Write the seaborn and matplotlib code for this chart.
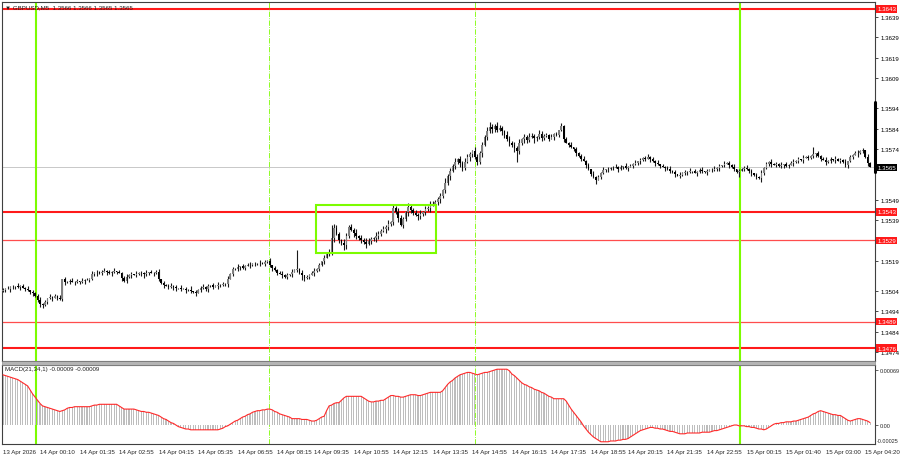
import numpy as np
import matplotlib
matplotlib.use("Agg")
import matplotlib.pyplot as plt
import matplotlib.transforms as mtransforms
from matplotlib.patches import Rectangle
import seaborn as sns

# GBPUSD M5 closes, in points above 1.35000 (1 point = 0.00001)
closes = [
    46, 52, 49, 58, 62, 66, 60, 63, 55, 50, 44, 38,
    30, 18, -5, -22, -28, -15, 5, 12, 8, 15, 6, 2,
    98, 86, 84, 88, 83, 87, 90, 86, 92, 95, 97, 100,
    125, 132, 136, 130, 134, 138, 135, 131, 136, 139, 134, 128,
    105, 88, 110, 120, 126, 118, 124, 130, 127, 122, 129, 133, 128, 131, 136,
    100, 78, 70, 66, 62, 64, 58, 55, 57, 50, 52, 46, 48, 40, 35, 30,
    45, 55, 60, 52, 64, 68, 62, 66, 72, 68, 74, 76,
    100, 125, 148, 150, 158, 162, 155, 166, 170, 168, 175,
    172, 178, 180, 176, 184, 190, 170, 155, 142, 130, 125, 118, 110,
    118, 126, 135, 145, 150, 130, 118, 105, 110, 118, 128, 140, 150,
    170, 190, 205, 225, 235, 300, 350, 320, 290, 275, 265, 310, 355,
    340, 325, 310, 300, 290, 280, 272,
    285, 295, 300, 312, 322, 335, 345, 358, 370, 380,
    450, 430, 400, 365, 395, 430, 455, 440, 425, 415, 410,
    420, 430, 445, 450, 462, 470, 480, 492,
    510, 540, 575, 605, 630, 655, 675, 690, 670, 645,
    675, 700, 715, 728, 700, 678, 720, 760, 800, 830, 850,
    840, 855, 835, 845, 830, 810, 790, 770, 760, 745, 730,
    770, 790, 800, 785, 798, 805, 792, 800, 812, 795, 803, 808, 790, 800, 815, 810,
    835, 852, 790, 770, 760, 750, 740, 720, 705, 690, 680,
    660, 640, 618, 600, 585, 600, 620, 635, 640, 642,
    648, 645, 652, 640, 650, 655, 645, 650, 658,
    665, 672, 680, 688, 695, 690, 702, 690, 680, 672, 665, 657,
    650, 645, 640, 632, 628, 615, 605, 610,
    620, 628, 625, 632, 630, 622, 628, 635, 630, 625, 632, 638, 635,
    640, 648, 655, 660, 668, 672, 660, 650, 640, 625, 632, 640, 645, 642,
    630, 620, 610, 600, 595, 620, 645, 665, 675,
    668, 660, 665, 658, 662, 668, 655, 662, 670, 675,
    680, 690, 688, 695, 700, 698, 706, 715,
    720, 705, 690, 685, 678, 682, 690, 685, 692, 680, 688, 675, 662,
    680, 700, 710, 722, 718, 730, 735, 700, 672, 650,
]
first_open = 40

# wick lengths, one digit per bar, in units of 5 points
wick_up = (
    "21312031213021231203121302123120312130212312"
    "13021231203121302123021231203121302123120213"
    "12131213021231203121302123120312130212312031"
    "32432143232413243214323241324321432324132432"
    "23142324132432143232413243214323241324321432"
    "21312031213021231203121302123120312130212312"
    "13021231203121302123021231203121302123120213"
    "12131213021231203121302123120312130212312031"
)
wick_dn = (
    "12031213021231203121302123120312130212312031"
    "31203121302123120312130212312031213021231203"
    "21230212312031213021231203121302123120312130"
    "23413243214323241324321432324132432143232413"
    "34232413243214323241324321432324132432143232"
    "12031213021231203121302123120312130212312031"
    "31203121302123120312130212312031213021231203"
    "21230212312031213021231203121302123120312130"
)
spike_high = {119: 245, 133: 365, 140: 365, 158: 470, 164: 470, 197: 875,
              200: 862, 226: 858, 328: 752, 348: 745, 107: 195}
spike_low = {15: -40, 17: -35, 121: 95, 147: 262, 208: 676, 240: 575,
             298: 600, 306: 590, 341: 655}

# MACD(21,34,1) main line, units of 0.00001
macd = [
    63, 62, 61, 60, 59, 58, 57, 55, 53, 51, 49, 44, 39,
    35, 31, 27, 24, 23, 22, 21, 20, 19, 18, 17,
    18, 19, 21, 22, 22, 23,
    23, 23, 23, 23, 23, 23, 24, 25, 25, 26,
    26, 26, 26, 26, 26, 26, 26, 24, 22, 20,
    20, 20, 20, 20, 19, 18, 17, 17, 16, 16,
    15, 14, 13, 12, 10, 8, 7, 5, 3, 2,
    0, -2, -3, -4, -5, -5, -6, -6, -6, -6,
    -6, -6, -6, -6, -6, -6, -6, -6, -5, -4,
    -2, -1, 1, 3, 5, 6, 8, 10, 11, 13,
    14, 16, 17, 18, 18, 19, 19, 20, 20, 19,
    17, 16, 14, 13, 12, 11, 10, 8, 8, 8,
    8, 7, 7, 7, 6, 5, 5, 6, 8, 10,
    11, 18, 24, 25, 27, 28, 28, 31, 34, 36,
    36, 36, 36, 36, 36, 36, 34, 32, 30, 29,
    29, 30, 30, 31, 31, 33, 35, 37, 37, 36,
    36, 35, 35, 36, 37, 38, 38, 38, 37, 37,
    38, 39, 40, 41, 41, 41, 41, 41, 43, 47,
    51, 54, 56, 59, 61, 63, 64, 65, 66, 66,
    65, 64, 63, 64, 65, 66, 66, 67, 68, 69,
    70, 70, 70, 70, 70, 68, 64, 62, 59, 56,
    53, 51, 50, 48, 47, 45, 44, 43, 41, 40,
    38, 36, 35, 33, 33, 33, 33, 33, 30, 25,
    20, 16, 12, 8, 4, -1, -5, -9, -12, -15,
    -17, -19, -21, -21, -21, -21, -20, -20, -20, -19,
    -19, -18, -18, -17, -15, -13, -11, -9, -7, -6,
    -5, -4, -3, -3, -4, -4, -5, -5, -6, -7,
    -8, -8, -9, -10, -11, -11, -11, -10, -10, -10,
    -10, -10, -10, -9, -9, -9, -9, -8, -7, -7,
    -6, -5, -4, -3, -2, -1, 0, 0, -1, -1,
    -1, -2, -2, -3, -3, -4, -5, -5, -6, -5,
    -3, -1, 1, 2, 2, 3, 3, 4, 4, 4,
    5, 5, 6, 7, 8, 9, 10, 12, 14, 15,
    17, 18, 17, 16, 15, 14, 13, 13, 12, 12,
    10, 8, 6, 5, 6, 7, 8, 8, 7, 6,
    5, 3,
]

levels_thick = [1.3643, 1.3543, 1.3476]
levels_thin = [1.3529, 1.3489]
last_price = 1.3565
price_ticks = [1.3639, 1.3629, 1.3619, 1.3609, 1.3594, 1.3584, 1.3574,
               1.3549, 1.3539, 1.3519, 1.3504, 1.3494, 1.3484, 1.3474]
day_lines = [13.4, 298.4]
session_lines = [107.7, 191.1]
box_bars = (126.7, 175.3)
box_prices = (1.35228, 1.35465)

time_bars = [0, 15, 31, 47, 63, 79, 95, 111, 126, 142, 158, 174, 190, 206,
             222, 238, 253, 269, 285, 301, 317, 333, 349]
time_labels = ["13 Apr 2026", "14 Apr 00:10", "14 Apr 01:35", "14 Apr 02:55",
               "14 Apr 04:15", "14 Apr 05:35", "14 Apr 06:55", "14 Apr 08:15",
               "14 Apr 09:35", "14 Apr 10:55", "14 Apr 12:15", "14 Apr 13:35",
               "14 Apr 14:55", "14 Apr 16:15", "14 Apr 17:35", "14 Apr 18:55",
               "14 Apr 20:15", "14 Apr 21:35", "14 Apr 22:55", "15 Apr 00:15",
               "15 Apr 01:40", "15 Apr 03:00", "15 Apr 04:20"]

sns.set_style("white")
plt.rcParams["font.family"] = ["Liberation Sans", "DejaVu Sans"]
FS = 4.4

# build OHLC
n = len(closes)
c = 1.35 + np.array(closes) * 1e-5
o = np.concatenate([[1.35 + first_open * 1e-5], c[:-1]])
wu = np.array([int(ch) for ch in wick_up.ljust(n, "1")[:n]]) * 5e-5
wd = np.array([int(ch) for ch in wick_dn.ljust(n, "1")[:n]]) * 5e-5
hi = np.maximum(o, c) + wu
lo = np.minimum(o, c) - wd
for k, v in spike_high.items():
    hi[k] = max(hi[k], 1.35 + v * 1e-5)
for k, v in spike_low.items():
    lo[k] = min(lo[k], 1.35 + v * 1e-5)
x = np.arange(n)

fig = plt.figure(figsize=(9, 4.6), dpi=100)
ax = fig.add_axes([2 / 900, 98 / 460, 873 / 900, 359 / 460])
ax2 = fig.add_axes([2 / 900, 15 / 460, 873 / 900, 79 / 460])

# separator band between panels
fig.patches.append(Rectangle((2 / 900, 94 / 460), 873 / 900, 4 / 460,
                             transform=fig.transFigure, facecolor="#b4b4b4",
                             edgecolor="#808080", lw=0.4))

# main price panel
xlim = (-0.4, 353.0)
for lv in levels_thick:
    ax.axhline(lv, color="#ff1a1a", lw=1.5, zorder=1)
for lv in levels_thin:
    ax.axhline(lv, color="#ff4d4d", lw=0.9, zorder=1)
ax.axhline(last_price, color="#c8c8c8", lw=0.7, zorder=1)

for a in (ax, ax2):
    for d in day_lines:
        a.axvline(d, color="#7cfc00", lw=1.5, zorder=1)
    for d in session_lines:
        a.axvline(d, color="#7cfc00", lw=0.6, ls="-.", zorder=1)

bull = c >= o
ax.vlines(x, lo, hi, color="#1a1a1a", lw=0.8, zorder=3)
ax.bar(x[bull], (c - o)[bull], bottom=o[bull], width=0.65,
       color="#808080", edgecolor="none", zorder=4)
ax.bar(x[~bull], (o - c)[~bull], bottom=c[~bull], width=0.65,
       color="#000000", edgecolor="none", zorder=4)

ax.add_patch(Rectangle((box_bars[0], box_prices[0]), box_bars[1] - box_bars[0],
                       box_prices[1] - box_prices[0], fill=False,
                       edgecolor="#7cfc00", lw=1.5, zorder=5))

ax.set_xlim(*xlim)
ax.set_ylim(1.34696, 1.36464)
ax.yaxis.tick_right()
ax.set_yticks(price_ticks)
ax.set_yticklabels([f"{t:.4f}" for t in price_ticks])
ax.tick_params(axis="y", labelsize=FS, length=2, width=0.5, pad=2, colors="#000000")
ax.set_xticks([])
for s in ax.spines.values():
    s.set_color("#404040")
    s.set_linewidth(0.8)

trans = mtransforms.blended_transform_factory(ax.transAxes, ax.transData)
for lv in levels_thick + levels_thin:
    ax.text(1.0025, lv, f"{lv:.4f}", transform=trans, fontsize=FS, color="white",
            va="center", ha="left", zorder=10,
            bbox=dict(facecolor="#ff1a1a", edgecolor="none", pad=0.9))
ax.text(1.0025, last_price, f"{last_price:.4f}", transform=trans, fontsize=FS,
        color="white", va="center", ha="left", zorder=10,
        bbox=dict(facecolor="#000000", edgecolor="none", pad=0.9))
ax.plot([1.0, 1.0], [1.35625, 1.35970], transform=trans, color="black",
        lw=2.2, clip_on=False, zorder=10)

# MACD panel
m = np.array(macd)
xm = np.arange(len(m))
ax2.bar(xm, m, width=0.45, color="#bdbdbd", edgecolor="none", zorder=2)
sns.lineplot(x=xm, y=m, ax=ax2, color="#ff2a2a", lw=0.8, zorder=3)
ax2.set_xlim(*xlim)
ax2.set_ylim(-23.8, 75.3)
ax2.yaxis.tick_right()
ax2.set_yticks([69, 0])
ax2.set_yticklabels(["0.00069", "0.00"])
ax2.tick_params(axis="y", labelsize=4.0, length=2, width=0.5, pad=1.2)
ax2.text(1.002, -20, "-0.00025", transform=mtransforms.blended_transform_factory(
    ax2.transAxes, ax2.transData), fontsize=3.9, va="center", ha="left")
ax2.set_xticks(time_bars)
ax2.set_xticklabels(time_labels)
ax2.tick_params(axis="x", labelsize=FS, length=2, width=0.5, pad=1.5)
for lab in ax2.get_xticklabels():
    lab.set_horizontalalignment("left")
for s in ax2.spines.values():
    s.set_color("#404040")
    s.set_linewidth(0.8)

fig.text(5 / 900, 1 - 7.5 / 460, "\u25bc GBPUSD,M5  1.3566 1.3566 1.3565 1.3565",
         fontsize=FS, va="center", ha="left", color="#202020")
fig.text(5 / 900, 1 - 370 / 460, "MACD(21,34,1) -0.00009 -0.00009",
         fontsize=FS, va="center", ha="left", color="#202020")

fig.savefig("out.png", dpi=100, facecolor="white")
